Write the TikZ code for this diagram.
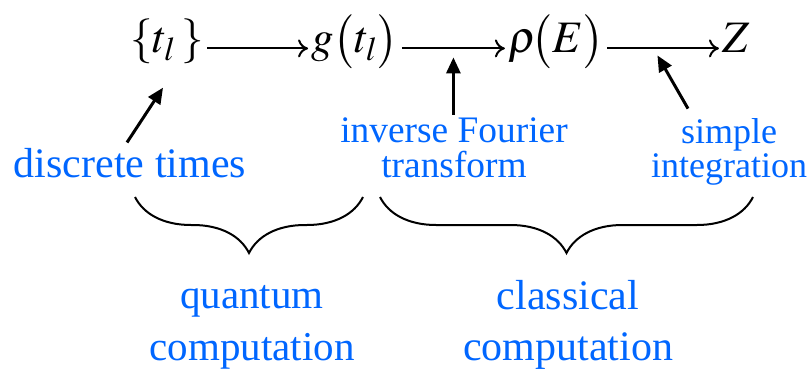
\documentclass[tikz,border=0pt]{standalone}
\usepackage{mathptmx}
\usepackage{fontspec}
\setmainfont{Liberation Serif}
\usepackage{xcolor}
\usepackage{tikz}
\usetikzlibrary{arrows.meta,positioning,calc,decorations.pathreplacing}
\definecolor{LabelBlue}{HTML}{0066FF}

\begin{document}
\begin{tikzpicture}[
    x=0.5pt, y=-0.5pt,
    term/.style={font=\fontsize{22.5}{27}\selectfont, anchor=base, inner xsep=1.5pt, inner ysep=0pt},
    note/.style={text=LabelBlue, align=center, anchor=base, inner sep=1pt},
    flow/.style={-{To[length=5pt,width=9pt]}, line width=1pt},
    hint/.style={-{Triangle[length=8pt,width=7pt]}, line width=1.5pt},
    grp/.style={decorate, decoration={brace, mirror, amplitude=28pt}, line width=1pt}
]
\useasboundingbox (0,0) rectangle (812,369);

\node[term] (tset) at (167,53) {$\{t_l\,\}$};
\node[term] (gt) at (355,53) {$g\bigl(t_l\bigr)$};
\node[term] (rho) at (556,53) {$\rho\!\bigl(E\bigr)$};
\node[term] (Z) at (736,53) {$Z$};

\node[note, font=\fontsize{21}{17.5}\selectfont] (times) at (130,177) {discrete times};
\node[note, font=\fontsize{18.7}{17.5}\selectfont] (ift) at (454,177) {inverse Fourier\\transform};
\node[note, font=\fontsize{18}{17}\selectfont] (integ) at (729,177) {simple\\integration};
\node[note, font=\fontsize{20.5}{26}\selectfont] (quant) at (252,360) {quantum\\computation};
\node[note, font=\fontsize{21}{25.5}\selectfont] (class) at (568,360) {classical\\computation};

\foreach \a/\b in {tset/gt,gt/rho,rho/Z}{\draw[flow] (\a.mid east) -- (\b.mid west);}

\coordinate (ftpt) at ($(gt.mid east)!0.5!(rho.mid west)$);
\coordinate (intpt) at ($(rho.mid east)!0.45!(Z.mid west)$);

\draw[hint] ([xshift=-1.5pt,yshift=1.5pt]times.north) -- ([xshift=-2pt,yshift=-11.5pt]tset.south);
\draw[hint] (ift.north -| ftpt) -- ([yshift=-4.5pt]ftpt);
\draw[hint] ([xshift=-20.5pt,yshift=3.5pt]integ.north) -- ([yshift=-3.5pt]intpt);

\draw[grp] (135,197) -- (363,197);
\draw[grp] (380,197) -- (753,197);
\end{tikzpicture}
\end{document}
